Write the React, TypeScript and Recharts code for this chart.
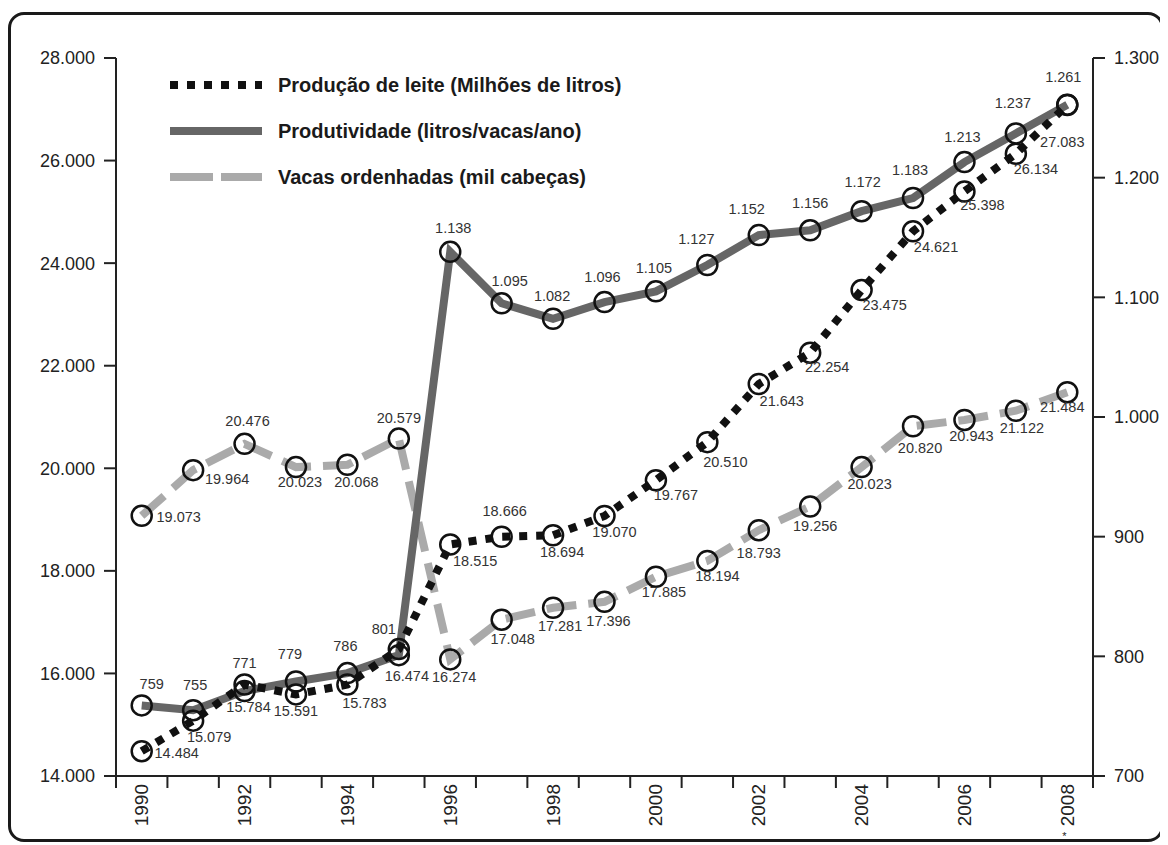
import React from "react";
import { LabelList, Legend, Line, LineChart, XAxis, YAxis } from "recharts";

const years = [
  1990, 1991, 1992, 1993, 1994, 1995, 1996, 1997, 1998, 1999, 2000, 2001, 2002,
  2003, 2004, 2005, 2006, 2007, 2008,
];

// milhões de litros
const producao = [
  14484, 15079, 15784, 15591, 15783, 16474, 18515, 18666, 18694, 19070, 19767,
  20510, 21643, 22254, 23475, 24621, 25398, 26134, 27083,
];

// litros/vaca/ano
const produtividade = [
  759, 755, 771, 779, 786, 801, 1138, 1095, 1082, 1096, 1105, 1127, 1152, 1156,
  1172, 1183, 1213, 1237, 1261,
];

// mil cabeças
const vacas = [
  19073, 19964, 20476, 20023, 20068, 20579, 16274, 17048, 17281, 17396, 17885,
  18194, 18793, 19256, 20023, 20820, 20943, 21122, 21484,
];

const leftTicks = [14000, 16000, 18000, 20000, 22000, 24000, 26000, 28000];
const rightTicks = [700, 800, 900, 1000, 1100, 1200, 1300];
const yearLabels = [1990, 1992, 1994, 1996, 1998, 2000, 2002, 2004, 2006, 2008];

const data = years.map((year, i) => ({
  year,
  producao: producao[i],
  produtividade: produtividade[i],
  vacas: vacas[i],
}));

// tick marks sit between the years
const yearEdges = [...years.map((y) => y - 0.5), years[years.length - 1] + 0.5];

// label nudges [dx, dy] from each point
const producaoNudge = [
  [35, 2], [16, 16], [4, 22], [0, 17], [17, 18], [8, 27], [25, 17], [3, -26],
  [9, 17], [10, 16], [20, 15], [18, 20], [23, 17], [17, 14], [23, 15], [23, 16],
  [18, 14], [20, 15], [-5, 37],
];
const produtividadeNudge = [
  [10, -21], [2, -25], [0, -28], [-6, -27], [-2, -27], [-15, -26], [3, -24],
  [8, -22], [-1, -23], [-2, -25], [-2, -23], [-11, -26], [-12, -26], [0, -27],
  [1, -29], [-3, -28], [-2, -25], [-3, -30], [-4, -28],
];
const vacasNudge = [
  [37, 1], [34, 9], [3, -23], [4, 15], [9, 17], [0, -21], [4, 18], [11, 19],
  [7, 18], [4, 19], [8, 15], [10, 15], [0, 23], [5, 20], [8, 17], [7, 22],
  [7, 16], [6, 17], [-5, 15],
];

const FONT = "'Liberation Sans', Arial, Helvetica, sans-serif";
const INK = "#222";

const fmt = (v: number) =>
  String(v).replace(/\B(?=(\d{3})+(?!\d))/g, ".");

const SERIES = [
  {
    key: "producao",
    name: "Produção de leite (Milhões de litros)",
    color: "#111",
    dash: "8 9",
    legendDash: "8 9",
  },
  {
    key: "produtividade",
    name: "Produtividade (litros/vacas/ano)",
    color: "#666",
    dash: undefined,
    legendDash: undefined,
  },
  {
    key: "vacas",
    name: "Vacas ordenhadas (mil cabeças)",
    color: "#aaa",
    dash: "30 12",
    legendDash: "43 8",
  },
];

function renderDot(p: any) {
  if (p.cx == null || p.cy == null) return <g key={`d-${p.index}`} />;
  return (
    <circle
      key={`d-${p.index}`}
      cx={p.cx}
      cy={p.cy}
      r={10}
      fill="none"
      stroke="#111"
      strokeWidth={2.5}
    />
  );
}

function makeLabel(nudge: number[][]) {
  return (props: any) => {
    const x = props.x ?? props.viewBox?.x;
    const y = props.y ?? props.viewBox?.y;
    const i = props.index ?? 0;
    if (x == null || y == null) return null;
    const [dx, dy] = nudge[i] || [0, -20];
    return (
      <text
        x={x + dx}
        y={y + dy}
        textAnchor="middle"
        dominantBaseline="central"
        fontSize={14.5}
        fill="#333"
        fontFamily={FONT}
      >
        {fmt(Number(props.value))}
      </text>
    );
  };
}

function YearTick({ x, y, payload }: any) {
  const last = payload.value === years[years.length - 1];
  return (
    <g>
      <text
        x={x}
        y={y - 2}
        transform={`rotate(-90 ${x} ${y - 2})`}
        textAnchor="end"
        dominantBaseline="central"
        fontSize={19}
        fill={INK}
        fontFamily={FONT}
      >
        {payload.value}
      </text>
      {last && (
        <text x={x - 3} y={y + 54} textAnchor="middle" fontSize={11} fill={INK}>
          *
        </text>
      )}
    </g>
  );
}

function ChartLegend() {
  return (
    <svg width={560} height={135}>
      {SERIES.map((s, i) => {
        const cy = 23 + i * 46;
        return (
          <g key={s.key}>
            <line
              x1={8}
              x2={100}
              y1={cy}
              y2={cy}
              stroke={s.color}
              strokeWidth={8}
              strokeDasharray={s.legendDash}
            />
            <text
              x={116}
              y={cy}
              dominantBaseline="central"
              fontSize={20}
              fontWeight="bold"
              fill="#1a1a1a"
              fontFamily={FONT}
            >
              {s.name}
            </text>
          </g>
        );
      })}
    </svg>
  );
}

export default function App() {
  const axisStroke = { stroke: INK, strokeWidth: 2 };
  const tickStyle = { fontSize: 18, fill: INK, fontFamily: FONT };

  return (
    <div style={{ position: "relative", width: 1155, height: 836, fontFamily: FONT }}>
      <style>{"html,body{overflow:hidden}"}</style>
      <div
        style={{
          position: "absolute",
          left: 0,
          top: 4,
          width: 1156,
          height: 830,
          boxSizing: "border-box",
          border: "3px solid #1a1a1a",
          borderRadius: 16,
        }}
      />
      <LineChart
        width={1155}
        height={836}
        data={data}
        margin={{ top: 50, right: 0, bottom: 10, left: 8 }}
        style={{ position: "absolute", left: 0, top: 0 }}
      >
        <XAxis
          xAxisId="a_marks"
          dataKey="year"
          type="number"
          domain={[1989.5, 2008.5]}
          ticks={yearEdges}
          interval={0}
          tick={() => <g />}
          tickSize={12}
          height={10}
          axisLine={axisStroke}
          tickLine={axisStroke}
        />
        <XAxis
          xAxisId="b_labels"
          dataKey="year"
          type="number"
          domain={[1989.5, 2008.5]}
          ticks={yearLabels}
          interval={0}
          tick={<YearTick />}
          tickSize={0}
          tickMargin={0}
          height={48}
          axisLine={false}
          tickLine={false}
        />
        <YAxis
          yAxisId="left"
          domain={[14000, 28000]}
          ticks={leftTicks}
          interval={0}
          tickFormatter={fmt}
          width={100}
          tickSize={12}
          tickMargin={9}
          tick={tickStyle}
          axisLine={axisStroke}
          tickLine={axisStroke}
        />
        <YAxis
          yAxisId="right"
          orientation="right"
          domain={[700, 1300]}
          ticks={rightTicks}
          interval={0}
          tickFormatter={fmt}
          width={70}
          tickSize={12}
          tickMargin={9}
          tick={tickStyle}
          axisLine={axisStroke}
          tickLine={axisStroke}
        />
        <Legend
          layout="horizontal"
          verticalAlign="middle"
          align="center"
          content={() => <ChartLegend />}
          wrapperStyle={{ position: "absolute", left: 154, top: 54, width: 560, height: 135 }}
        />
        <Line
          xAxisId="a_marks"
          yAxisId="left"
          type="linear"
          dataKey="vacas"
          name={SERIES[2].name}
          stroke={SERIES[2].color}
          strokeWidth={8}
          strokeDasharray={SERIES[2].dash}
          dot={renderDot}
          activeDot={false}
          isAnimationActive={false}
        >
          <LabelList dataKey="vacas" content={makeLabel(vacasNudge)} />
        </Line>
        <Line
          xAxisId="a_marks"
          yAxisId="right"
          type="linear"
          dataKey="produtividade"
          name={SERIES[1].name}
          stroke={SERIES[1].color}
          strokeWidth={8}
          dot={renderDot}
          activeDot={false}
          isAnimationActive={false}
        >
          <LabelList dataKey="produtividade" content={makeLabel(produtividadeNudge)} />
        </Line>
        <Line
          xAxisId="a_marks"
          yAxisId="left"
          type="linear"
          dataKey="producao"
          name={SERIES[0].name}
          stroke={SERIES[0].color}
          strokeWidth={8}
          strokeDasharray={SERIES[0].dash}
          dot={renderDot}
          activeDot={false}
          isAnimationActive={false}
        >
          <LabelList dataKey="producao" content={makeLabel(producaoNudge)} />
        </Line>
      </LineChart>
    </div>
  );
}
